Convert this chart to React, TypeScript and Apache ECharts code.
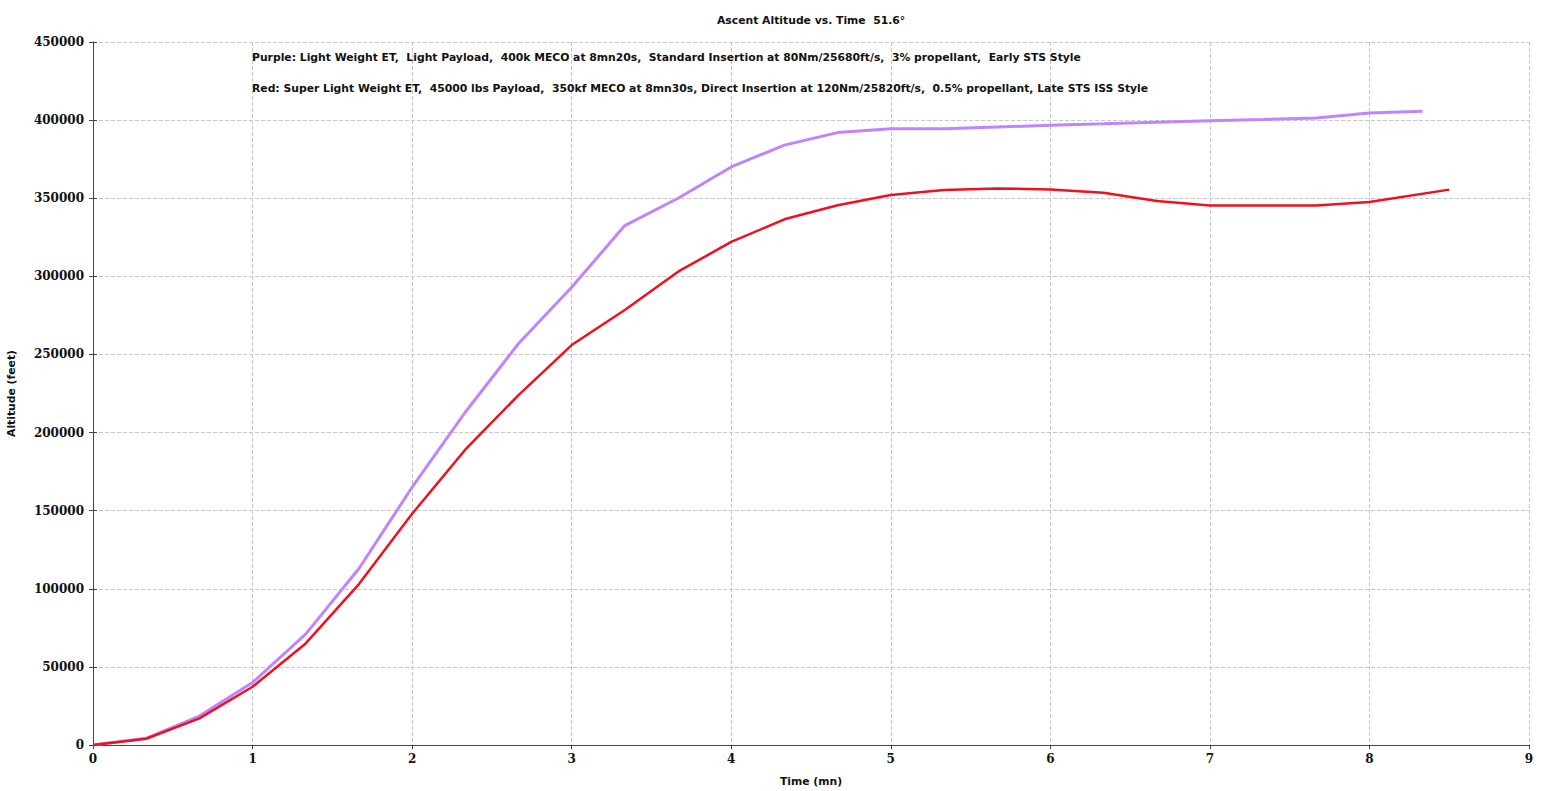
import React, { useEffect, useRef } from 'react';
import * as echarts from 'echarts';

// time in minutes (one sample every 20 s)
const purpleTimes = [0, 0.333, 0.667, 1, 1.333, 1.667, 2, 2.333, 2.667, 3, 3.333, 3.667, 4, 4.333, 4.667, 5, 5.333, 5.667, 6, 6.333, 6.667, 7, 7.333, 7.667, 8, 8.333];
const purpleAlt = [0, 4300, 18500, 40000, 71000, 113000, 165000, 213000, 257000, 293000, 332500, 350000, 370000, 384000, 392000, 394500, 394500, 395600, 396700, 397600, 398600, 399600, 400400, 401300, 404500, 405600];

const redTimes = [0, 0.333, 0.667, 1, 1.333, 1.667, 2, 2.333, 2.667, 3, 3.333, 3.667, 4, 4.333, 4.667, 5, 5.333, 5.667, 6, 6.333, 6.667, 7, 7.333, 7.667, 8, 8.5];
const redAlt = [0, 4000, 17000, 37300, 65000, 103000, 148000, 189000, 224000, 256000, 278500, 303000, 322000, 336500, 345500, 352000, 355300, 356300, 355600, 353500, 348200, 345400, 345300, 345400, 347600, 355500];

const chartTitle = 'Ascent Altitude vs. Time  51.6°';
const notePurple = 'Purple: Light Weight ET,  Light Payload,  400k MECO at 8mn20s,  Standard Insertion at 80Nm/25680ft/s,  3% propellant,  Early STS Style';
const noteRed = 'Red: Super Light Weight ET,  45000 lbs Payload,  350kf MECO at 8mn30s, Direct Insertion at 120Nm/25820ft/s,  0.5% propellant, Late STS ISS Style';

const sans = 'DejaVu Sans';
const serif = 'DejaVu Serif';

export default function App() {
  const chartRef = useRef<HTMLDivElement | null>(null);

  useEffect(() => {
    document.body.style.margin = '0';
    if (!chartRef.current) return;
    const chart = echarts.init(chartRef.current, undefined, { renderer: 'svg' });

    const axisLine = { show: true, lineStyle: { color: '#444', width: 1 } };
    const split = { show: true, lineStyle: { color: '#c8c8c8', type: 'dashed' as const, width: 1 } };
    const tickLabel = { fontFamily: serif, fontWeight: 'bold' as const, fontSize: 12, color: '#111' };
    const textStyle = { fontFamily: sans, fontSize: 10.8, fontWeight: 'bold' as const, color: '#111' };

    const option = {
      animation: false,
      backgroundColor: '#fff',
      title: [
        { text: chartTitle, left: 717, top: 15, padding: 0, textStyle },
        { text: notePurple, left: 252, top: 52, padding: 0, textStyle },
        { text: noteRed, left: 252, top: 83, padding: 0, textStyle },
      ],
      grid: { left: 93, right: 25, top: 42, bottom: 46, outerBoundsMode: 'none' },
      xAxis: [
        {
          type: 'value',
          min: 0,
          max: 9,
          interval: 1,
          name: 'Time (mn)',
          nameLocation: 'middle',
          nameGap: 31,
          nameTextStyle: textStyle,
          axisLine,
          axisTick: { show: true, length: 4, lineStyle: { color: '#444' } },
          axisLabel: { ...tickLabel, margin: 8 },
          splitLine: split,
        },
        {
          type: 'value',
          position: 'top',
          min: 0,
          max: 9,
          interval: 1,
          axisLine,
          axisTick: { show: true, inside: true, length: 4, lineStyle: { color: '#444' } },
          axisLabel: { show: false },
          splitLine: { show: false },
        },
      ],
      yAxis: [
        {
          type: 'value',
          min: 0,
          max: 450000,
          interval: 50000,
          name: 'Altitude (feet)',
          nameLocation: 'middle',
          nameGap: 76,
          nameTextStyle: textStyle,
          axisLine,
          axisTick: { show: true, length: 4, lineStyle: { color: '#444' } },
          axisLabel: { ...tickLabel, margin: 9, formatter: (v: number) => String(v) },
          splitLine: split,
        },
        {
          type: 'value',
          position: 'right',
          min: 0,
          max: 450000,
          interval: 50000,
          axisLine,
          axisTick: { show: true, length: 4, lineStyle: { color: '#444' } },
          axisLabel: { show: false },
          splitLine: { show: false },
        },
      ],
      series: [
        {
          name: 'Purple',
          type: 'line',
          data: purpleTimes.map((t, i) => [t, purpleAlt[i]]),
          showSymbol: false,
          lineStyle: { color: '#c084ff', width: 3 },
          itemStyle: { color: '#c084ff' },
          z: 2,
        },
        {
          name: 'Red',
          type: 'line',
          data: redTimes.map((t, i) => [t, redAlt[i]]),
          showSymbol: false,
          lineStyle: { color: '#f0101e', width: 2.5 },
          itemStyle: { color: '#f0101e' },
          z: 3,
        },
      ],
    };

    chart.setOption(option);
    return () => {
      chart.dispose();
    };
  }, []);

  return <div ref={chartRef} style={{ width: '1554px', height: '791px' }}></div>;
}
